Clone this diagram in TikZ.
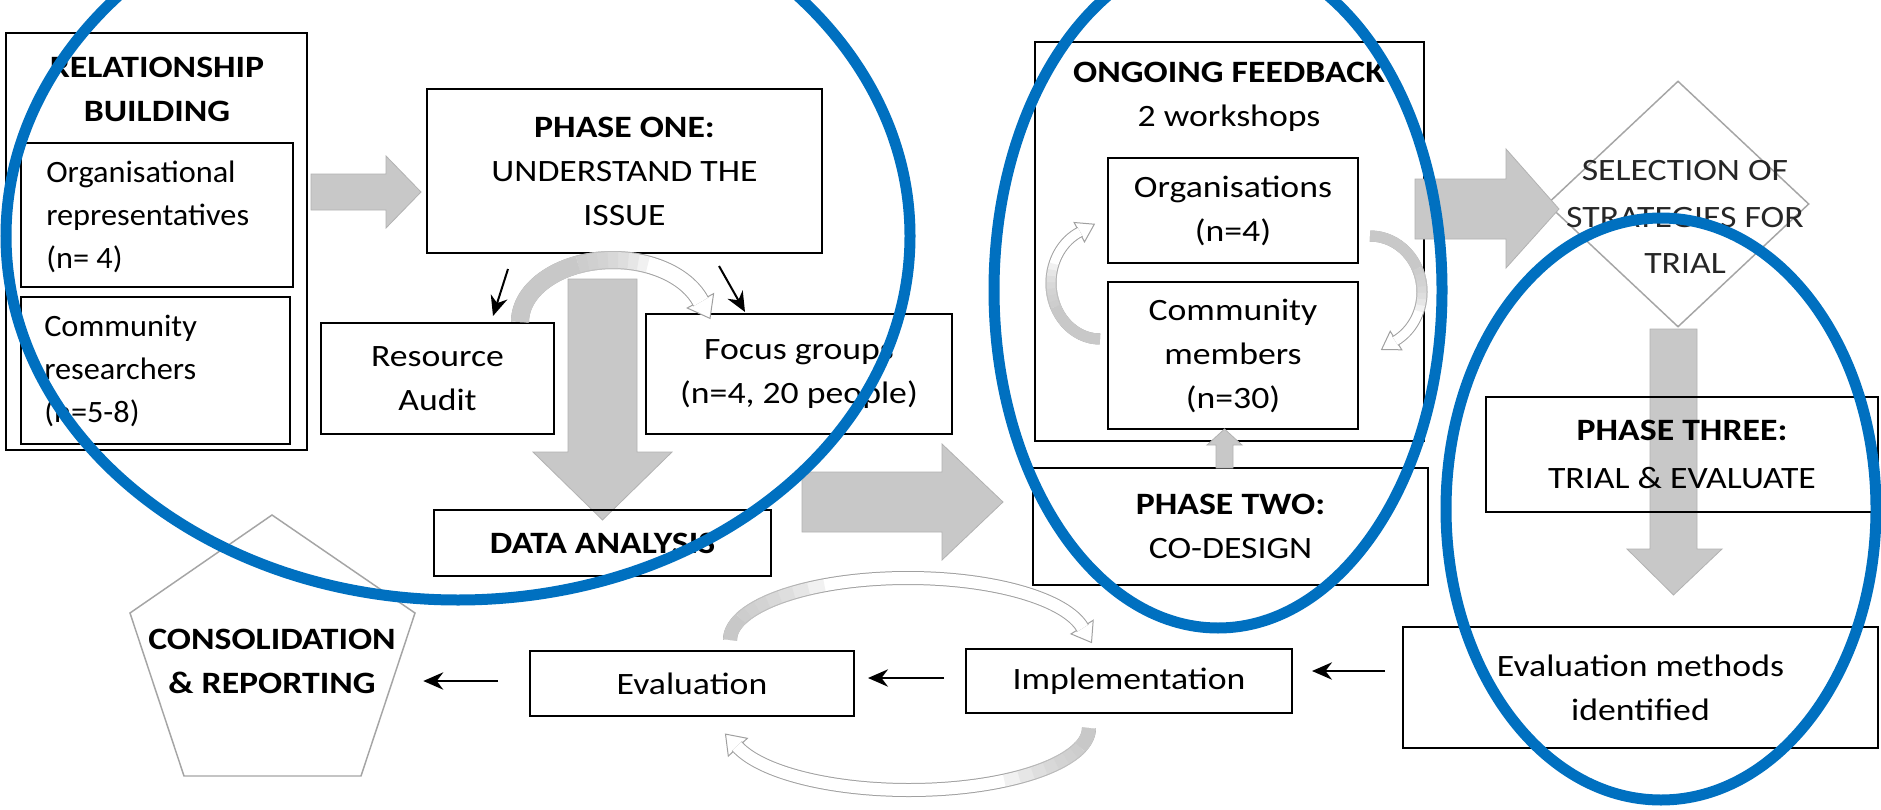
\documentclass[tikz,border=0pt]{standalone}
\usepackage{fontspec}
\setmainfont{Carlito}[FakeStretch=1.15]
\newfontfamily\narrowfont{Carlito}[FakeStretch=1.04]
\usetikzlibrary{shapes.geometric,arrows.meta,calc}
\definecolor{ellblue}{RGB}{0,112,192}
\definecolor{blockgray}{RGB}{200,200,200}
\definecolor{blockedge}{RGB}{178,178,178}
\definecolor{arcedge}{RGB}{160,160,160}
\definecolor{shapegray}{RGB}{165,165,165}
\newcommand\mainfs{\fontsize{23.3}{33}\selectfont}
\newcommand\narrowfs{\narrowfont\fontsize{23.3}{32.5}\selectfont}
\newcommand\bandarc[6]{\draw[#1] ($(#2)+(#5:#3 and #4)$) arc[start angle=#5, end angle=#6, x radius=#3, y radius=#4];}
% #1 centre, #2 rx, #3 ry, #4 tail angle, #5 end of solid part, #6 end of fade, #7 end angle, #8 band width (px)
\newcommand\bandgrad[8]{%
  \pgfmathsetmacro\bgInner{(#8-2)*0.75}%
  \pgfmathsetmacro\bgOuter{#8*0.75}%
  \bandarc{bandout=\bgInner pt}{#1}{#2}{#3}{#4}{#7}%
  \bandarc{bandsolid=\bgOuter pt}{#1}{#2}{#3}{#4}{#5}%
  \foreach \k in {1,...,7}{%
    \pgfmathsetmacro\bgTh{#5+(#6-#5)*\k/7}%
    \bandarc{bandsolid=\bgOuter pt, draw opacity=0.25}{#1}{#2}{#3}{#5}{\bgTh}%
  }%
}
\tikzset{
  wh/.style 2 args={minimum width=#1*0.75pt, minimum height=#2*0.75pt},
  box/.style={draw=black, line width=1.5pt, inner sep=0pt, align=center, font=\mainfs},
  txt/.style={align=center, font=\mainfs, inner sep=0pt},
  blockarrow/.style={fill=blockgray, draw=blockedge, line width=0.6pt, line join=miter},
  thinarr/.style={draw=black, line width=1.5pt, -{Stealth[length=15pt,width=13pt]}},
  ell/.style={draw=ellblue, line width=8.25pt},
  bandsolid/.style={draw=blockgray, line width=#1},
  bandout/.style={draw=arcedge, line width=0.75pt, double=white, double distance=#1},
  headstyle/.style={fill=white, draw=arcedge, line width=0.75pt, line join=miter},
}
\begin{document}
\begin{tikzpicture}[x=0.75pt,y=-0.75pt]
\useasboundingbox (0,0) rectangle (1881,810);
\clip (0,0) rectangle (1881,810);
\fill[white] (0,0) rectangle (1881,810);

% block arrows drawn behind the boxes
\draw[blockarrow] (311,174) -- (386,174) -- (386,156) -- (421,192) -- (386,228) -- (386,210) -- (311,210) -- cycle;
\draw[blockarrow] (568,279) -- (637,279) -- (637,452) -- (672,452) -- (602.5,520) -- (533,452) -- (568,452) -- cycle;
\draw[blockarrow] (802,472) -- (942,472) -- (942,444) -- (1003,502) -- (942,560) -- (942,532) -- (802,532) -- cycle;
\draw[blockarrow] (1650,329) -- (1697,329) -- (1697,549) -- (1722,549) -- (1673.5,595) -- (1627,549) -- (1650,549) -- cycle;

% boxes
\node[box, wh={301}{417}] (relbox) at (156.5,241.5) {};
\node[box, wh={272}{144}] (orgrep) at (157,215) {};
\node[box, wh={269}{147}] (commres) at (155.5,370.5) {};
\node[box, wh={395}{164}] (phase1) at (624.5,171) {\textbf{PHASE ONE:}\\UNDERSTAND THE\\ISSUE};
\node[box, wh={233}{111}] (resource) at (437.5,378.5) {Resource\\Audit};
\node[box, wh={306}{120}] (focus) at (799,374) {Focus groups\\(n=4, 20 people)};
\node[box, wh={337}{66}] (data) at (602.5,543) {\textbf{DATA ANALYSIS}};
\node[box, wh={389}{399}] (feedback) at (1229.5,241.5) {};
\node[box, wh={250}{105}] (orgs) at (1233,210.5) {Organisations\\(n=4)};
\node[box, wh={250}{147}] (commem) at (1233,355.5) {Community\\members\\(n=30)};
\node[box, wh={395}{117}] (phase2) at (1230.5,526.5) {\textbf{PHASE TWO:}\\CO-DESIGN};
\node[box, wh={392}{115}, font=\fontsize{23.3}{35.5}\selectfont] (phase3) at (1682,454.5) {\textbf{PHASE THREE:}\\TRIAL \& EVALUATE};
\node[box, wh={475}{121}] (methods) at (1640.5,687.5) {Evaluation methods\\identified};
\node[box, wh={326}{64}] (impl) at (1129,681) {Implementation};
\node[box, wh={324}{65}] (eval) at (692,683.5) {Evaluation};

% texts of grouped boxes
\node[txt] (reltitle) at (157,89.5) {\textbf{RELATIONSHIP}\\\textbf{BUILDING}};
\node[txt, anchor=west, align=left, font=\narrowfs] (orgreptext) at (46,217) {Organisational\\representatives\\(n= 4)};
\node[txt, anchor=west, align=left, font=\narrowfs] (commrestext) at (44,371) {Community\\researchers\\(n=5-8)};
\node[txt] (fbtitle) at (1229,97) {\textbf{ONGOING FEEDBACK}\\2 workshops};

% selection diamond
\node[diamond, draw=shapegray, line width=1.1pt, wh={262}{246}, inner sep=0pt] (sel) at (1678,204) {};
\node[txt, text=black!85, font=\fontsize{23.3}{35}\selectfont] (seltext) at (1685,217) {SELECTION OF\\STRATEGIES FOR\\TRIAL};

% consolidation pentagon
\node[wh={285}{261}, inner sep=0pt] (cons) at (272.5,645.5) {};
\draw[shapegray, line width=1.1pt, line join=miter] (272,515) -- (415,613) -- (361,776) -- (184,776) -- (130,613) -- cycle;
\node[txt] (constext) at (272,661) {\textbf{CONSOLIDATION}\\\textbf{\& REPORTING}};

% block arrows on top of boxes
\draw[blockarrow] (1415,179) -- (1506,179) -- (1506,149) -- (1559,209) -- (1506,268) -- (1506,239) -- (1415,239) -- cycle;
\draw[blockarrow] (1216,468) -- (1216,445) -- (1207,445) -- (1224.5,429) -- (1242,445) -- (1233,445) -- (1233,468) -- cycle;

% curved arrows
\coordinate (cA) at (613,322);
\coordinate (cB) at (1100,283);
\coordinate (cC) at (1370,292);
\coordinate (cD) at (908,640);
\coordinate (cE) at (909,728);
% A: phase one loop
\draw[headstyle] (713.6,293.6) -- (710.0,318.4) -- (687.2,308.0) -- cycle;
\bandgrad{cA}{93}{62}{180}{248}{292}{341}{18}
% B: feedback left
\draw[headstyle] (1084.5,241.9) -- (1094.3,224.2) -- (1074.1,222.5) -- cycle;
\bandgrad{cB}{49}{56}{90}{155}{200}{246}{11}
% C: feedback right
\draw[headstyle] (1401.8,349.8) -- (1381.6,349.5) -- (1390.2,331.2) -- cycle;
\bandgrad{cC}{52}{56}{270}{335}{380}{421}{11}
% D: evaluation upper
\draw[headstyle] (1093.2,620.3) -- (1091.5,642.5) -- (1071.0,633.9) -- cycle;
\bandgrad{cD}{178}{62}{180}{200}{242}{349}{14}
% E: evaluation lower
\draw[headstyle] (728.3,756.1) -- (725.5,734.1) -- (747.3,738.3) -- cycle;
\bandgrad{cE}{180}{62}{0}{18}{58}{163}{14}

% thin connectors
\draw[thinarr] ($(phase1.south west)+(82,15)$) -- ($(resource.north)+(55.5,-6)$);
\draw[thinarr] ($(phase1.south east)+(-104,12)$) -- ($(focus.north west)+(100,-1)$);
\draw[thinarr] ($(methods.west)+(-17,-16.5)$) -- ($(impl.east)+(19,-10)$);
\draw[thinarr] ($(impl.west)+(-21,-3)$) -- ($(eval.east)+(13,-5.5)$);
\draw[thinarr] ($(eval.west)+(-31,-2.5)$) -- ($(cons.east)+(8,35.5)$);

% blue highlight ellipses
\draw[ell] (458,236) ellipse [x radius=452, y radius=364];
\draw[ell] (1218,290) ellipse [x radius=224, y radius=338];
\draw[ell] (1661,509) ellipse [x radius=215, y radius=291];
\end{tikzpicture}
\end{document}
